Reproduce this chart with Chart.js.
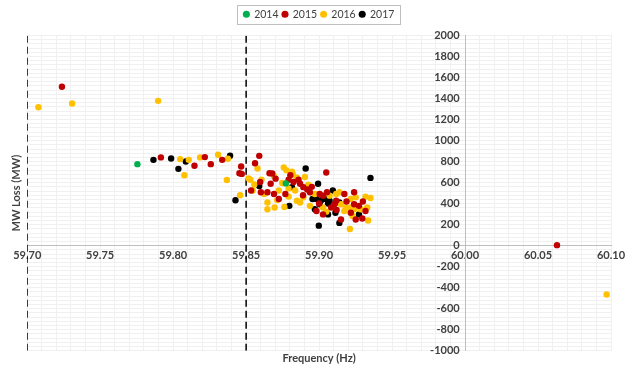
<!DOCTYPE html>
<html>
<head>
<meta charset="utf-8">
<title>MW Loss vs Frequency</title>
<script src="https://cdn.jsdelivr.net/npm/chart.js@4"></script>
<style>
  html, body { margin: 0; padding: 0; background: #ffffff; }
  #wrap { width: 636px; height: 367px; position: relative; }
</style>
</head>
<body>
<div id="wrap"><canvas id="loss-chart"></canvas></div>
<script>
"use strict";

// axis ranges and ticks
const FREQ_MIN = 59.70;
const FREQ_MAX = 60.10;
const FREQ_STEP = 0.05;
const MW_MIN = -1000;
const MW_MAX = 2000;
const MW_STEP = 200;
// where the axes cross
const CROSS_FREQ = 60.00;
const CROSS_MW = 0;
// dashed marker lines
const DASH_FREQS = [59.70, 59.85];

const YEARS = ["2014", "2015", "2016", "2017"];
const YEAR_COLORS = ["#00B050", "#C00000", "#FFC000", "#000000"];

const FREQ_2014 = [59.7755, 59.8772];
const MW_2014 = [776, 593];

const FREQ_2015 = [59.7238, 60.063, 59.7916, 59.8146, 59.8217, 59.8258, 59.8336, 59.8466,
  59.8454, 59.8470, 59.8590, 59.8561, 59.9049, 59.8679, 59.8803, 59.8791, 59.8859, 59.8596,
  59.8668, 59.8870, 59.8825, 59.8601, 59.8646, 59.8691, 59.8937, 59.8892, 59.9054, 59.9173,
  59.9240, 59.9004, 59.9300, 59.9027, 59.8724, 59.9000, 59.9117, 59.9188, 59.9240, 59.9273,
  59.8982, 59.9083, 59.9150, 59.9296, 59.9318, 59.9251, 59.8890, 59.8950, 59.9120, 59.8702,
  59.8919, 59.9105, 59.9217, 59.9027, 59.8769, 59.8534, 59.8660];
const MW_2015 = [1513, 5, 840, 760, 843, 776, 817, 753,
  689, 683, 855, 784, 697, 687, 671, 628, 628, 606,
  590, 590, 606, 509, 509, 492, 509, 557, 509, 492,
  509, 492, 421, 476, 444, 402, 428, 421, 395, 379,
  330, 363, 249, 259, 330, 249, 480, 560, 340, 638,
  535, 395, 314, 298, 492, 525, 689];

const FREQ_2016 = [59.7077, 59.7308, 59.7897, 60.097, 59.8048, 59.8107, 59.8077, 59.8185,
  59.8308, 59.8375, 59.8368, 59.8459, 59.8516, 59.8758, 59.8776, 59.8578, 59.8814, 59.8691,
  59.8848, 59.8556, 59.8605, 59.8747, 59.8926, 59.8791, 59.8545, 59.8724, 59.8836, 59.9117,
  59.9139, 59.9251, 59.9318, 59.9352, 59.8971, 59.8646, 59.8713, 59.8791, 59.8848, 59.8762,
  59.8870, 59.9150, 59.9217, 59.9240, 59.9217, 59.8646, 59.8695, 59.8937, 59.9049, 59.9027,
  59.9173, 59.9229, 59.9336, 59.9330, 59.9211, 59.8903, 59.9072, 59.9184, 59.9285, 59.8892,
  59.8623, 59.8529, 59.8820];
const MW_2016 = [1317, 1353, 1378, -464, 824, 817, 670, 840,
  865, 827, 625, 481, 641, 745, 719, 735, 703, 661,
  648, 583, 628, 596, 580, 545, 525, 525, 525, 492,
  509, 460, 467, 454, 492, 411, 434, 467, 428, 369,
  411, 395, 444, 347, 363, 347, 363, 379, 324, 363,
  330, 282, 240, 363, 159, 654, 476, 363, 347, 460,
  492, 628, 680];

const FREQ_2017 = [59.7865, 59.7986, 59.8036, 59.8087, 59.8390, 59.8427, 59.8908, 59.9352,
  59.8993, 59.8814, 59.8590, 59.9094, 59.8955, 59.8796, 59.8982, 59.9016, 59.9045, 59.9061,
  59.9072, 59.9139, 59.9004, 59.8971, 59.9112, 59.9061, 59.9273, 59.8998, 59.9139];
const MW_2017 = [817, 830, 731, 801, 856, 433, 735, 645,
  590, 557, 567, 525, 444, 379, 444, 434, 444, 402,
  428, 411, 395, 347, 314, 298, 298, 191, 217];

const TEXT_COLOR = "#404040";
const MAJOR_GRID = "#d9d9d9";
const MINOR_GRID = "#f0f0f0";

window.addEventListener("load", init);

function init() {
  Chart.defaults.font.family = "Lato";
  Chart.defaults.color = TEXT_COLOR;

  let datasets = [];
  let freqs = [FREQ_2014, FREQ_2015, FREQ_2016, FREQ_2017];
  let mws = [MW_2014, MW_2015, MW_2016, MW_2017];
  for (let i = 0; i < YEARS.length; i++) {
    datasets.push({
      label: YEARS[i],
      data: toPoints(freqs[i], mws[i]),
      backgroundColor: YEAR_COLORS[i],
      borderColor: YEAR_COLORS[i],
      borderWidth: 0,
      pointRadius: 3.2
    });
  }
  DASH_FREQS.forEach(f => {
    datasets.push({
      label: "dash",
      type: "line",
      data: [{x: f, y: MW_MIN}, {x: f, y: MW_MAX}],
      borderColor: "#000000",
      borderWidth: 1.5,
      borderDash: [7, 4],
      pointRadius: 0,
      showLine: true,
      order: 20
    });
  });

  new Chart(id("loss-chart"), {
    type: "scatter",
    data: {datasets: datasets},
    options: {
      responsive: true,
      maintainAspectRatio: false,
      animation: false,
      layout: {padding: {top: 5, left: 10, right: 25, bottom: 2}},
      plugins: {
        tooltip: {enabled: false},
        legend: {
          position: "top",
          fullSize: false,
          labels: {
            usePointStyle: true,
            pointStyle: "circle",
            boxWidth: 5,
            boxHeight: 5,
            padding: 4,
            font: {size: 10.5},
            filter: item => item.text !== "dash"
          }
        }
      },
      scales: {
        x: {
          type: "linear",
          min: FREQ_MIN,
          max: FREQ_MAX,
          position: {y: CROSS_MW},
          ticks: {
            stepSize: FREQ_STEP,
            autoSkip: false,
            maxRotation: 0,
            padding: 3,
            font: {size: 11, weight: "bold"},
            callback: v => v.toFixed(2)
          },
          grid: {color: MAJOR_GRID, drawTicks: false},
          border: {color: "#bfbfbf"}
        },
        y: {
          min: MW_MIN,
          max: MW_MAX,
          position: {x: CROSS_FREQ},
          ticks: {
            stepSize: MW_STEP,
            font: {size: 11, weight: "bold"},
            callback: v => v + "  "
          },
          grid: {color: MAJOR_GRID, drawTicks: false},
          border: {color: "#bfbfbf"}
        },
        // empty strip between legend and plot
        gap: {
          type: "linear",
          position: "top",
          ticks: {display: false},
          grid: {display: false},
          border: {display: false},
          afterFit: s => { s.height = 6; }
        },
        xMinor: {
          type: "linear",
          min: FREQ_MIN,
          max: FREQ_MAX,
          position: "bottom",
          z: -1,
          ticks: {display: false, stepSize: 0.01},
          grid: {color: MINOR_GRID, drawTicks: false},
          border: {display: false},
          title: {
            display: true,
            text: "Frequency (Hz)",
            padding: {top: 1, bottom: 0},
            font: {size: 11, weight: "bold"}
          }
        },
        yMinor: {
          type: "linear",
          min: MW_MIN,
          max: MW_MAX,
          position: "left",
          z: -1,
          ticks: {display: false, stepSize: 40},
          grid: {color: MINOR_GRID, drawTicks: false},
          border: {display: false},
          title: {
            display: true,
            text: "MW Loss (MW)",
            padding: {top: 0, bottom: 4},
            font: {size: 11, weight: "bold"}
          }
        }
      }
    },
    plugins: [legendFrame]
  });
}

function toPoints(xs, ys) {
  return xs.map((x, i) => ({x: x, y: ys[i]}));
}

// thin grey box around the legend items, like the Excel legend
const legendFrame = {
  id: "legendFrame",
  afterDraw(chart) {
    let boxes = chart.legend.legendHitBoxes;
    if (!boxes || !boxes.length) {
      return;
    }
    let left = Math.min(...boxes.map(b => b.left)) - 7;
    let right = Math.max(...boxes.map(b => b.left + b.width)) + 6;
    let top = boxes[0].top - 4;
    let bottom = boxes[0].top + boxes[0].height + 4;
    let ctx = chart.ctx;
    ctx.save();
    ctx.strokeStyle = "#bfbfbf";
    ctx.lineWidth = 1;
    ctx.strokeRect(Math.round(left) + 0.5, Math.round(top) + 0.5,
      Math.round(right - left), Math.round(bottom - top));
    ctx.restore();
  }
};

function id(name) {
  return document.getElementById(name);
}
</script>
</body>
</html>
